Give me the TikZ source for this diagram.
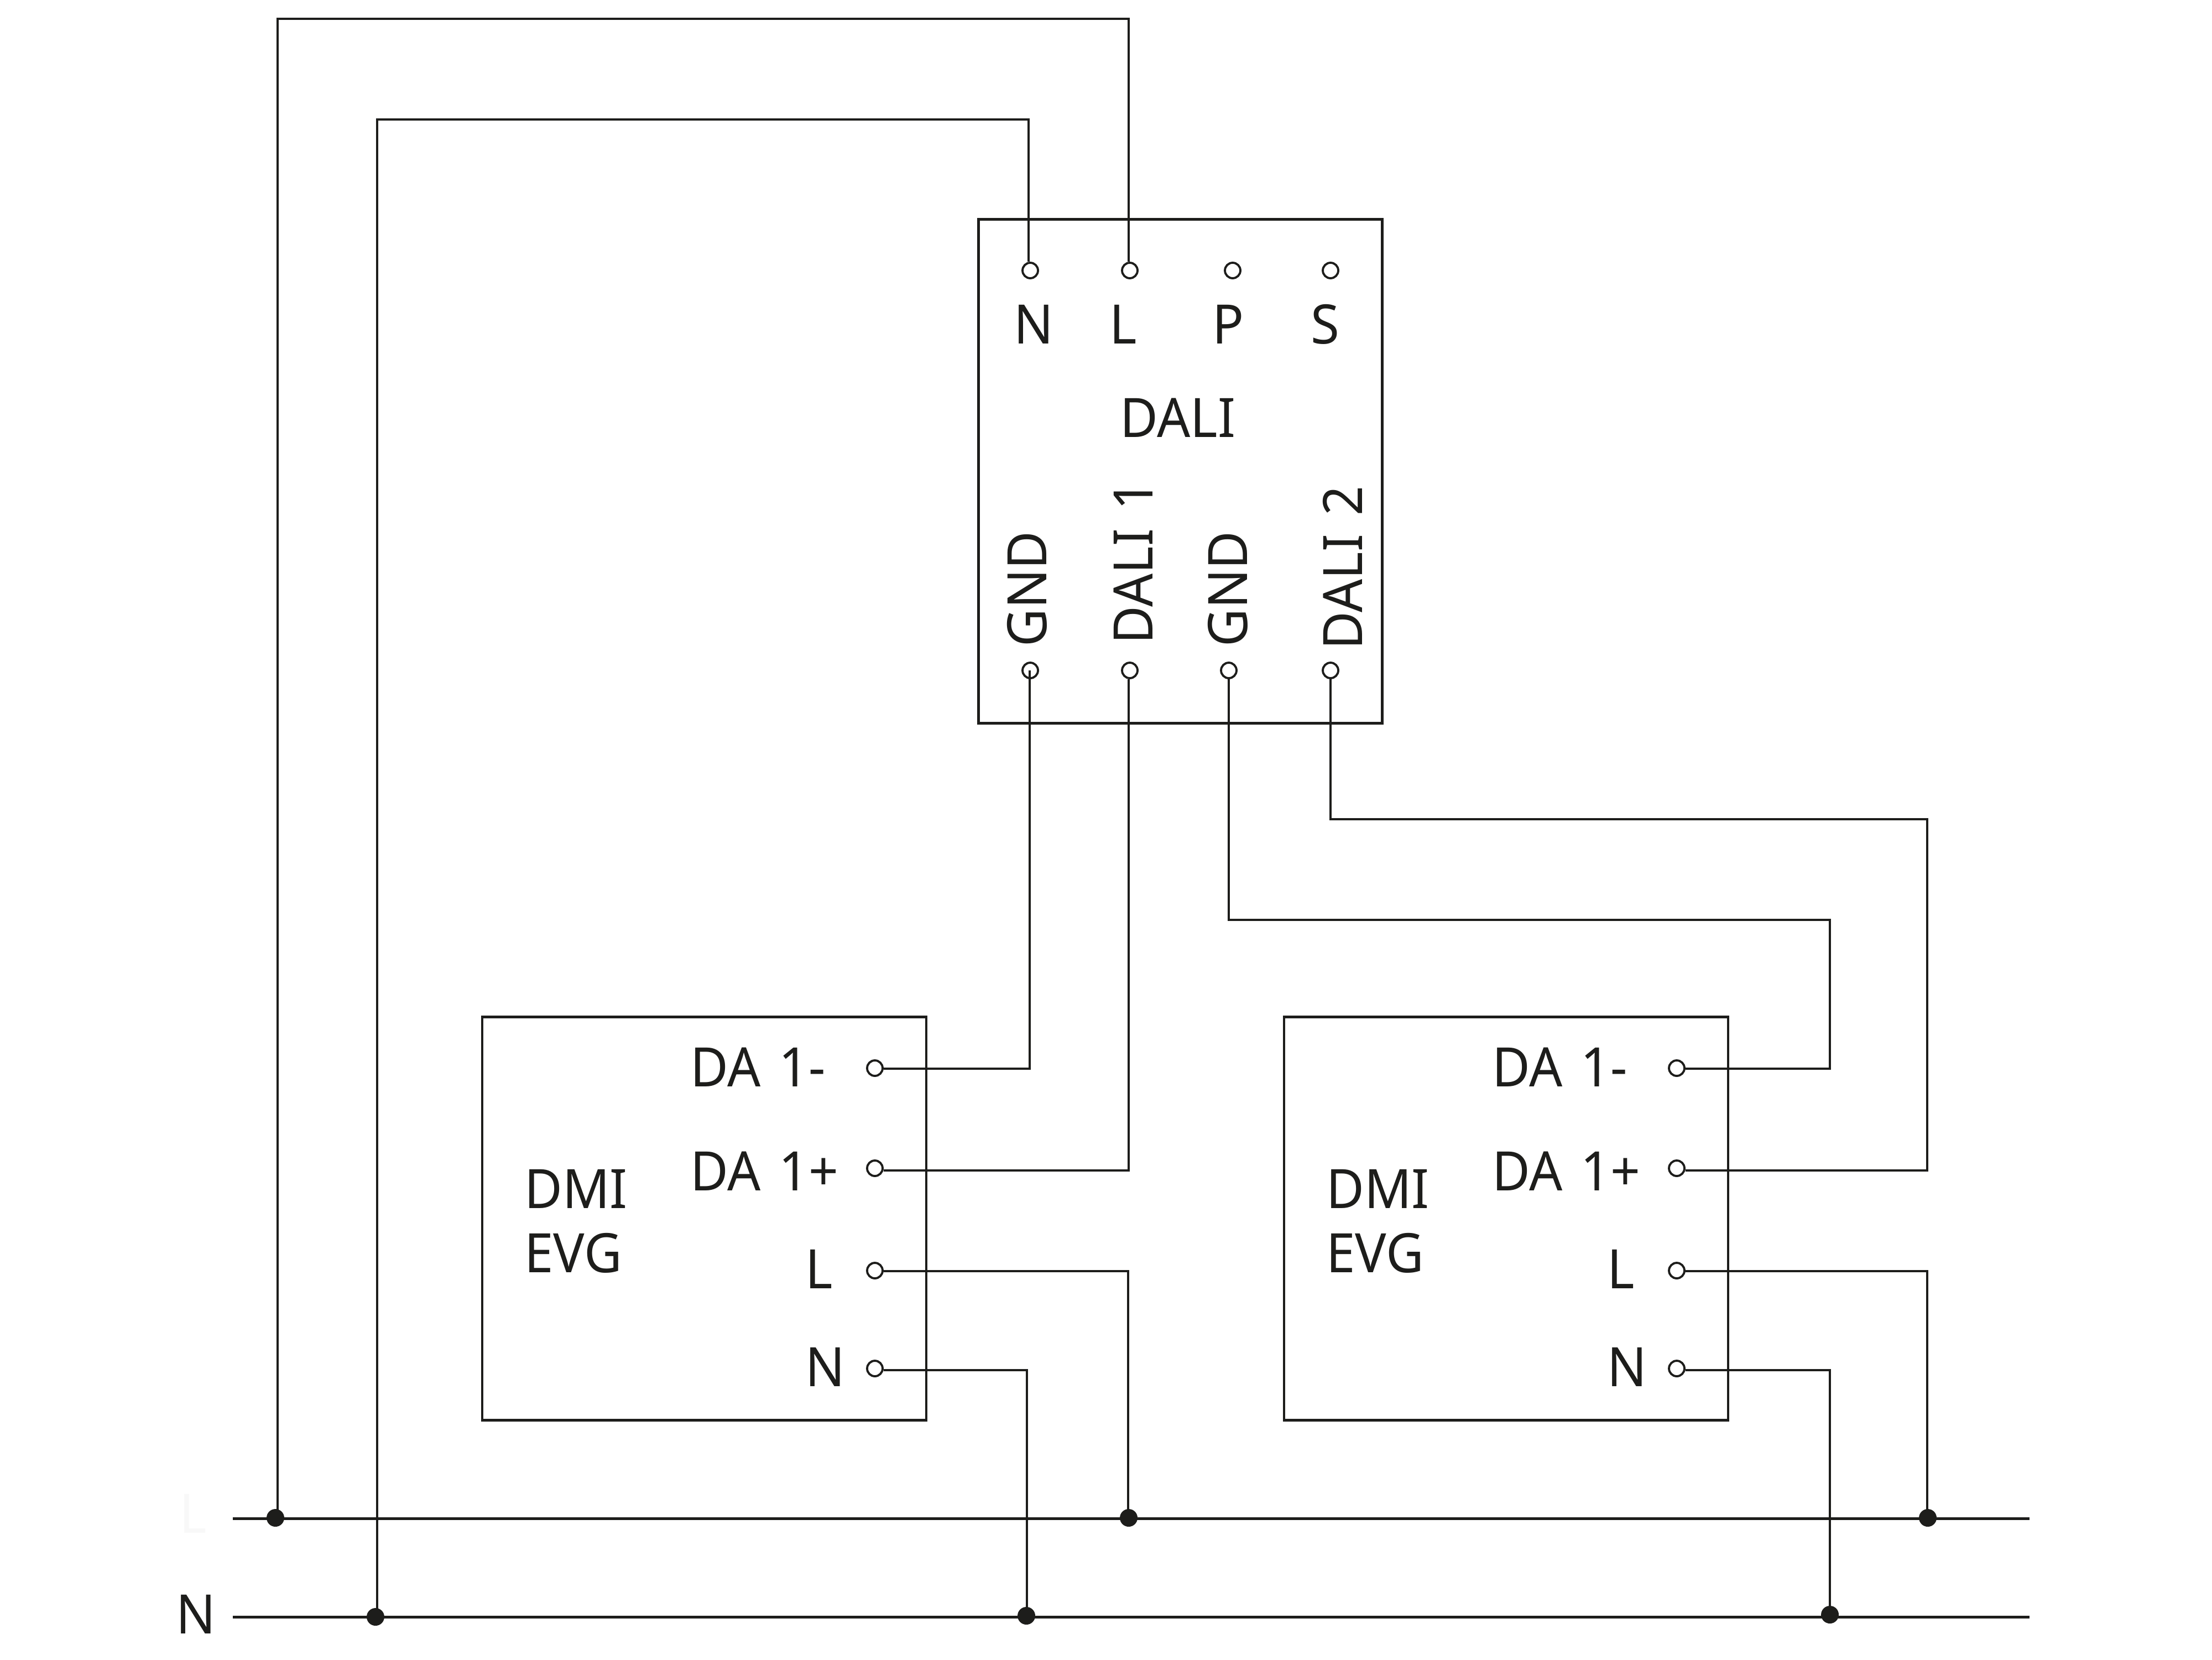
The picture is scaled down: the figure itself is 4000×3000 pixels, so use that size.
\documentclass[tikz,border=0pt]{standalone}
\usepackage{fontspec}
\usepackage{xcolor}
\setmainfont[FakeStretch=0.96,WordSpace=1.35]{Noto Sans}
\definecolor{ink}{HTML}{1D1D1B}
\tikzset{
  wire/.style={line width=0.6pt,color=ink},
  bus/.style={line width=0.7pt,color=ink},
  case/.style={draw=ink,line width=0.65pt,rectangle,inner sep=0pt},
  term/.style={draw=ink,line width=0.55pt,fill=white,circle,inner sep=0pt,minimum size=0.14cm},
  dot/.style={fill=ink,circle,inner sep=0pt,minimum size=0.16cm},
  txt/.style={text=ink,inner sep=0pt,anchor=base west,font=\fontsize{14}{14}\selectfont},
  lbl/.style={txt,xshift=-0.045cm},
  vlbl/.style={yshift=-0.045cm,txt,rotate=90}
}
\begin{document}
\begin{tikzpicture}[line cap=butt,line join=miter,x=0.005cm,y=-0.005cm]
      \clip(0,0) rectangle (4000,3000);
      \node (dali) [case,minimum width=3.655cm,minimum height=4.56cm] at (2134.5,852) {};
      \node (evgA) [case,minimum width=4.02cm,minimum height=3.65cm] at (1273.5,2203) {};
      \node (evgB) [case,minimum width=4.02cm,minimum height=3.65cm] at (2723.5,2203) {};
      \node (tdN) [term] at (1863,489) {};
      \node (tdL) [term] at (2043,489) {};
      \node (tdP) [term] at (2229,489) {};
      \node (tdS) [term] at (2406,489) {};
      \node (tdGa) [term] at (1863,1212) {};
      \node (tdOne) [term] at (2043,1212) {};
      \node (tdGb) [term] at (2222,1212) {};
      \node (tdTwo) [term] at (2406,1212) {};
      \node (tAm) [term] at (1582,1931) {};
      \node (tAp) [term] at (1582,2112) {};
      \node (tAL) [term] at (1582,2297) {};
      \node (tAN) [term] at (1582,2474) {};
      \node (tBm) [term] at (3032,1931) {};
      \node (tBp) [term] at (3032,2112) {};
      \node (tBL) [term] at (3032,2297) {};
      \node (tBN) [term] at (3032,2474) {};
      \node (lbN) [lbl] at (1841,621) {N};
      \node (lbL) [lbl] at (2014,621) {L};
      \node (lbP) [lbl] at (2200,621) {P};
      \node (lbS) [lbl] at (2378,621) {S};
      \node (lbDali) [lbl] at (2033,790) {DALI};
      \node (lbGa) [vlbl] at (1892,1162) {GND};
      \node (lbOne) [vlbl] at (2084,1157) {DALI 1};
      \node (lbGb) [vlbl] at (2255,1162) {GND};
      \node (lbTwo) [vlbl] at (2463,1167) {DALI 2};
      \node (lbAm) [lbl] at (1256,1964) {DA 1-};
      \node (lbAp) [lbl] at (1256,2152) {DA 1+};
      \node (lbAL) [lbl] at (1464,2329) {L};
      \node (lbAN) [lbl] at (1464,2506) {N};
      \node (lbAd) [lbl] at (956,2184) {DMI};
      \node (lbAe) [lbl] at (956,2300) {EVG};
      \node (lbBm) [lbl] at (2706,1964) {DA 1-};
      \node (lbBp) [lbl] at (2706,2152) {DA 1+};
      \node (lbBL) [lbl] at (2914,2329) {L};
      \node (lbBN) [lbl] at (2914,2506) {N};
      \node (lbBd) [lbl] at (2406,2184) {DMI};
      \node (lbBe) [lbl] at (2406,2300) {EVG};
      \node (lbBusN) [lbl] at (326,2953) {N};
      \node (lbBusL) [lbl,text=ink!3] at (332,2771) {L};
      \coordinate (busLa) at (421,2745);
      \coordinate (busLb) at (3670,2745);
      \coordinate (busNa) at (421,2923);
      \coordinate (busNb) at (3670,2923);
      \node (dotLa) [dot] at (498,2744) {};
      \node (dotLb) [dot] at (2041,2744) {};
      \node (dotLc) [dot] at (3486,2744) {};
      \node (dotNa) [dot] at (679,2923) {};
      \node (dotNb) [dot] at (1856,2921) {};
      \node (dotNc) [dot] at (3309,2919) {};
      \coordinate (cLa) at (502,34);
      \coordinate (cLb) at (2041,34);
      \coordinate (cNa) at (682,216);
      \coordinate (cNb) at (1860,216);
      \coordinate (cOne) at (2041,2116);
      \coordinate (cGa) at (1862,1932);
      \coordinate (cGb) at (2222,1663);
      \coordinate (cGc) at (3309,1663);
      \coordinate (cGd) at (3309,1932);
      \coordinate (cTa) at (2406,1481);
      \coordinate (cTb) at (3485,1481);
      \coordinate (cTc) at (3485,2116);
      \coordinate (cAL) at (2040,2298);
      \coordinate (cAN) at (1857,2477);
      \coordinate (cBL) at (3485,2298);
      \coordinate (cBN) at (3309,2477);
      \draw [bus] (busLa)-- (busLb);
      \draw [bus] (busNa)-- (busNb);
      \draw [wire] (cLa |- dotLa)-- (cLa)-- (cLb)-- (cLb |- tdL.north);
      \draw [wire] (cNa |- dotNa)-- (cNa)-- (cNb)-- (cNb |- tdN.north);
      \draw [wire] (cGa |- tdGa.center)-- (cGa)-- (cGa -| tAm.east);
      \draw [wire] (cOne |- tdOne.south)-- (cOne)-- (cOne -| tAp.east);
      \draw [wire] (tdGb.south)-- (cGb)-- (cGc)-- (cGd)-- (cGd -| tBm.east);
      \draw [wire] (tdTwo.south)-- (cTa)-- (cTb)-- (cTc)-- (cTc -| tBp.east);
      \draw [wire] (cAL -| tAL.east)-- (cAL)-- (cAL |- dotLb);
      \draw [wire] (cAN -| tAN.east)-- (cAN)-- (cAN |- dotNb);
      \draw [wire] (cBL -| tBL.east)-- (cBL)-- (cBL |- dotLc);
      \draw [wire] (cBN -| tBN.east)-- (cBN)-- (cBN |- dotNc);
    \end{tikzpicture}
\end{document}
